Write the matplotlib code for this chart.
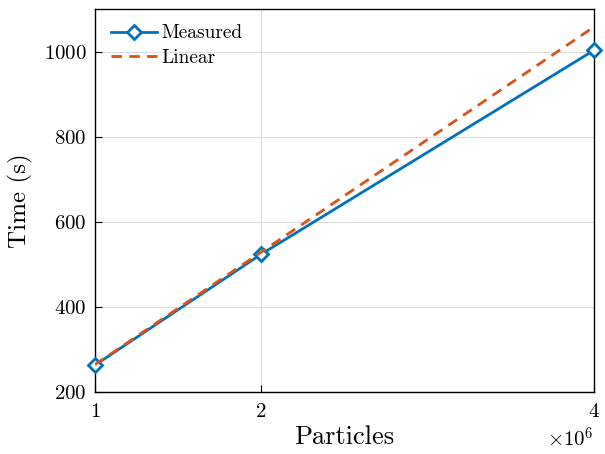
import numpy as np
import matplotlib
matplotlib.use("Agg")
import matplotlib.pyplot as plt

plt.rcParams['font.family'] = 'serif'
plt.rcParams['font.serif'] = ['cmr10']
plt.rcParams['mathtext.fontset'] = 'cm'
plt.rcParams['axes.formatter.use_mathtext'] = True

# timing data (particles in millions, seconds)
particles = [1, 2, 4]
measured = [263, 524, 1003]
linear = [264.5 * p for p in particles]

fig = plt.figure(figsize=(6.05, 4.54), dpi=100)
ax = fig.add_axes([95 / 605, 1 - 392 / 454, (594 - 95) / 605, (392 - 9) / 454])

ax.plot(particles, measured, color='#0072BD', lw=2, marker='D', ms=7,
        mfc='white', mec='#0072BD', mew=2, label='Measured', zorder=3,
        clip_on=False)
ax.plot(particles, linear, color='#D95319', lw=2, ls=(0, (3.8, 2.6)),
        label='Linear', zorder=4)

ax.set_xlim(1, 4)
ax.set_ylim(200, 1100)
ax.set_xticks([1, 2, 4])
ax.set_xticklabels(['1', '2', '4'])
ax.set_yticks([200, 400, 600, 800, 1000])
ax.grid(color='#dcdcdc', lw=0.8)
ax.set_axisbelow(True)
ax.tick_params(direction='in', labelsize=15, length=5, width=0.8)
ax.tick_params(axis='x', pad=8)
ax.tick_params(axis='y', pad=6)
for s in ax.spines.values():
    s.set_linewidth(1.0)

ax.set_xlabel('Particles', fontsize=19, labelpad=3)
ax.set_ylabel('Time (s)', fontsize=18, labelpad=8)
ax.text(1.0, -0.09, r'$\times 10^6$', transform=ax.transAxes, ha='right',
        va='top', fontsize=15)

ax.legend(loc='upper left', frameon=False, fontsize=14, handlelength=2.4,
          borderaxespad=0.4, handletextpad=0.2, labelspacing=0.35)

fig.savefig('out.png', dpi=100)
